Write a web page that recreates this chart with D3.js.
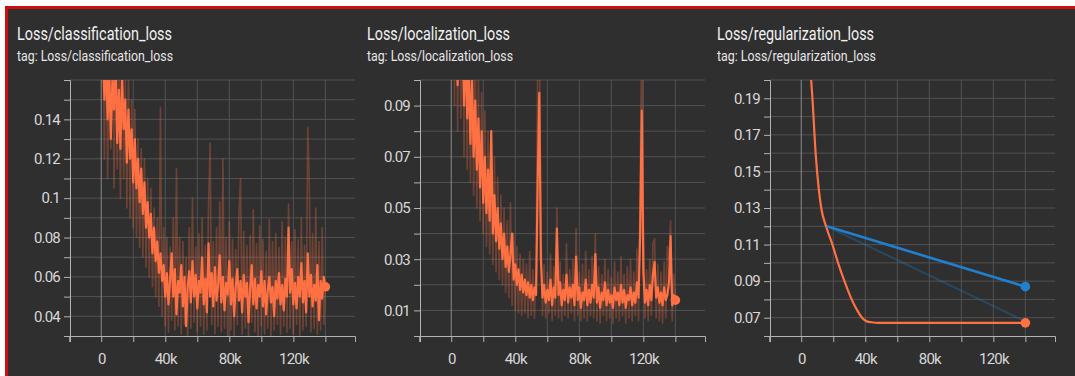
<!DOCTYPE html>
<html>
<head>
<meta charset="utf-8">
<script src="https://cdn.jsdelivr.net/npm/d3@7"></script>
<style>
  body { margin: 0; background: #fff; }
  svg { display: block; font-family: Roboto, sans-serif; }
  .title { fill: #f2f2f2; font-size: 19px; }
  .subtitle { fill: #e8e8e8; font-size: 15px; }
  .axis text { fill: #d8d8d8; font-size: 15px; letter-spacing: -0.8px; font-family: Roboto, sans-serif; }
  .axis path, .axis line { stroke: #b3b3b3; }
  .grid line { stroke: #525252; }
  .grid line.zero { stroke: #8c8c8c; }
</style>
</head>
<body>
<svg width="1075" height="376"></svg>
<script>
// steps logged every 1k for the two noisy losses
const steps = d3.range(1000, 140001, 1000);

const clsSmooth = [
  0.175, 0.15, 0.17, 0.14, 0.165, 0.13, 0.16, 0.145, 0.17, 0.128,
  0.155, 0.125, 0.162, 0.135, 0.15, 0.118, 0.145, 0.12, 0.135, 0.108,
  0.13, 0.105, 0.12, 0.098, 0.115, 0.092, 0.108, 0.085, 0.098, 0.08,
  0.092, 0.072, 0.085, 0.068, 0.078, 0.062, 0.072, 0.058, 0.066, 0.05,
  0.062, 0.046, 0.058, 0.072, 0.05, 0.064, 0.041, 0.058, 0.052, 0.066,
  0.045, 0.06, 0.035, 0.055, 0.063, 0.047, 0.068, 0.05, 0.061, 0.044,
  0.058, 0.052, 0.07, 0.046, 0.059, 0.042, 0.077, 0.05, 0.062, 0.045,
  0.065, 0.048, 0.056, 0.071, 0.047, 0.06, 0.043, 0.057, 0.051, 0.068,
  0.046, 0.059, 0.04, 0.055, 0.064, 0.048, 0.058, 0.042, 0.061, 0.05,
  0.057, 0.037, 0.054, 0.066, 0.046, 0.059, 0.044, 0.056, 0.05, 0.063,
  0.045, 0.058, 0.041, 0.053, 0.06, 0.047, 0.055, 0.04, 0.058, 0.049,
  0.062, 0.046, 0.056, 0.043, 0.059, 0.05, 0.085, 0.052, 0.064, 0.046,
  0.057, 0.044, 0.06, 0.05, 0.067, 0.047, 0.058, 0.042, 0.072, 0.05,
  0.061, 0.045, 0.056, 0.048, 0.066, 0.038, 0.058, 0.049, 0.06, 0.055
];
const clsRaw = [
  0.19, 0.12, 0.2, 0.11, 0.18, 0.125, 0.19, 0.105, 0.17, 0.115,
  0.175, 0.1, 0.18, 0.11, 0.16, 0.095, 0.165, 0.09, 0.15, 0.085,
  0.145, 0.08, 0.13, 0.075, 0.125, 0.07, 0.12, 0.065, 0.11, 0.06,
  0.105, 0.055, 0.095, 0.05, 0.09, 0.045, 0.146, 0.04, 0.085, 0.035,
  0.08, 0.032, 0.075, 0.038, 0.09, 0.033, 0.115, 0.035, 0.08, 0.031,
  0.078, 0.036, 0.07, 0.03, 0.085, 0.034, 0.1, 0.037, 0.075, 0.032,
  0.082, 0.035, 0.09, 0.031, 0.076, 0.033, 0.095, 0.128, 0.036, 0.078,
  0.031, 0.085, 0.035, 0.098, 0.032, 0.12, 0.034, 0.08, 0.03, 0.088,
  0.033, 0.079, 0.03, 0.074, 0.036, 0.092, 0.11, 0.031, 0.083, 0.034,
  0.076, 0.03, 0.081, 0.037, 0.094, 0.032, 0.077, 0.03, 0.086, 0.035,
  0.079, 0.031, 0.073, 0.034, 0.089, 0.03, 0.078, 0.033, 0.082, 0.036,
  0.075, 0.031, 0.088, 0.035, 0.08, 0.032, 0.097, 0.034, 0.078, 0.031,
  0.084, 0.036, 0.079, 0.03, 0.09, 0.033, 0.076, 0.035, 0.136, 0.106,
  0.032, 0.082, 0.034, 0.095, 0.031, 0.078, 0.033, 0.085, 0.036, 0.055
];

const locSmooth = [
  0.15, 0.12, 0.14, 0.098, 0.13, 0.105, 0.125, 0.09, 0.115, 0.085,
  0.105, 0.075, 0.1, 0.07, 0.092, 0.065, 0.085, 0.058, 0.08, 0.052,
  0.07, 0.048, 0.065, 0.045, 0.08, 0.04, 0.055, 0.037, 0.05, 0.034,
  0.044, 0.03, 0.04, 0.027, 0.035, 0.025, 0.032, 0.04, 0.022, 0.028,
  0.02, 0.026, 0.018, 0.024, 0.017, 0.022, 0.016, 0.021, 0.015, 0.02,
  0.014, 0.019, 0.016, 0.06, 0.095, 0.03, 0.015, 0.02, 0.013, 0.018,
  0.014, 0.022, 0.012, 0.019, 0.015, 0.042, 0.016, 0.021, 0.012, 0.018,
  0.014, 0.024, 0.013, 0.019, 0.015, 0.02, 0.012, 0.031, 0.014, 0.019,
  0.011, 0.017, 0.014, 0.022, 0.012, 0.018, 0.013, 0.02, 0.015, 0.032,
  0.013, 0.019, 0.011, 0.017, 0.014, 0.021, 0.012, 0.018, 0.013, 0.016,
  0.011, 0.019, 0.014, 0.017, 0.012, 0.02, 0.013, 0.018, 0.011, 0.016,
  0.014, 0.019, 0.012, 0.017, 0.013, 0.021, 0.015, 0.04, 0.088, 0.025,
  0.013, 0.018, 0.012, 0.02, 0.014, 0.024, 0.029, 0.015, 0.019, 0.013,
  0.017, 0.012, 0.019, 0.014, 0.016, 0.021, 0.039, 0.012, 0.016, 0.014
];
const locRaw = [
  0.18, 0.09, 0.16, 0.08, 0.15, 0.085, 0.14, 0.07, 0.13, 0.065,
  0.125, 0.06, 0.115, 0.055, 0.11, 0.05, 0.1, 0.045, 0.095, 0.04,
  0.088, 0.035, 0.08, 0.032, 0.075, 0.028, 0.07, 0.025, 0.062, 0.022,
  0.055, 0.02, 0.05, 0.017, 0.045, 0.015, 0.052, 0.012, 0.04, 0.01,
  0.035, 0.009, 0.032, 0.008, 0.03, 0.009, 0.028, 0.007, 0.033, 0.008,
  0.026, 0.007, 0.03, 0.105, 0.12, 0.045, 0.008, 0.028, 0.007, 0.025,
  0.009, 0.032, 0.006, 0.027, 0.008, 0.05, 0.007, 0.029, 0.006, 0.024,
  0.008, 0.036, 0.007, 0.026, 0.009, 0.03, 0.006, 0.042, 0.008, 0.025,
  0.006, 0.028, 0.007, 0.033, 0.006, 0.026, 0.008, 0.031, 0.007, 0.04,
  0.006, 0.027, 0.005, 0.024, 0.008, 0.03, 0.006, 0.026, 0.007, 0.023,
  0.005, 0.029, 0.007, 0.025, 0.006, 0.031, 0.008, 0.024, 0.005, 0.027,
  0.007, 0.03, 0.006, 0.025, 0.008, 0.034, 0.006, 0.06, 0.12, 0.045,
  0.007, 0.026, 0.006, 0.03, 0.008, 0.036, 0.038, 0.007, 0.028, 0.006,
  0.025, 0.005, 0.029, 0.007, 0.035, 0.03, 0.045, 0.006, 0.024, 0.014
];

// regularization loss: only a few logged points
const regSteps = [5000, 7000, 9000, 11000, 12500, 15500, 19500, 23000, 27000, 31000, 35000, 38000, 41000, 44000, 48000, 140000];
const regOrange = [0.215, 0.19, 0.16, 0.14, 0.13, 0.12, 0.11, 0.1, 0.09, 0.081, 0.074, 0.07, 0.068, 0.0675, 0.0672, 0.0672];
const regBlueSteps = [16000, 140000];
const regBlueSmooth = [0.12, 0.087];
const regBlueRaw = [0.12, 0.068];

const titles = ['Loss/classification_loss', 'Loss/localization_loss', 'Loss/regularization_loss'];
const yDomains = [[0.03, 0.16], [0, 0.1], [0.06, 0.2]];
const yLabels = [
  [0.04, 0.06, 0.08, 0.1, 0.12, 0.14],
  [0.01, 0.03, 0.05, 0.07, 0.09],
  [0.07, 0.09, 0.11, 0.13, 0.15, 0.17, 0.19]
];
const xTicks = [0, 20000, 40000, 60000, 80000, 100000, 120000, 140000];
const xLabels = [0, 40000, 80000, 120000];

const orange = '#ff7043', blue = '#1f80d0';

const svg = d3.select('svg');
svg.append('rect').attr('x', 5).attr('y', 6).attr('width', 1070).attr('height', 370).attr('fill', '#cc1010');
svg.append('rect').attr('x', 8).attr('y', 9).attr('width', 1067).attr('height', 367).attr('fill', '#2f2f2f');

const titleW = [[155, 156], [143, 146], [157, 159]];
const plotTop = 80, plotBottom = 336, plotW = 285;

function panel(i, series) {
  const ox = i * 350;
  const g = svg.append('g').attr('transform', `translate(${ox},0)`);

  g.append('text').attr('class', 'title').attr('x', 17).attr('y', 40)
    .attr('textLength', titleW[i][0]).attr('lengthAdjust', 'spacingAndGlyphs').text(titles[i]);
  g.append('text').attr('class', 'subtitle').attr('x', 17).attr('y', 61)
    .attr('textLength', titleW[i][1]).attr('lengthAdjust', 'spacingAndGlyphs').text('tag: ' + titles[i]);

  const x = d3.scaleLinear().domain([-19500, 158500]).range([70, 70 + plotW]);
  const y = d3.scaleLinear().domain(yDomains[i]).range([plotBottom, plotTop]);
  const [y0, y1] = yDomains[i];
  const yTicks = d3.range(Math.round(y0 * 100), Math.round(y1 * 100) + 1).map(d => d / 100);

  const grid = g.append('g').attr('class', 'grid');
  grid.selectAll('.h').data(yTicks.slice(1)).enter().append('line')
    .attr('x1', 70).attr('x2', 70 + plotW)
    .attr('y1', d => y(d)).attr('y2', d => y(d));
  grid.selectAll('.v').data(xTicks).enter().append('line')
    .attr('class', d => d === 0 ? 'zero' : null)
    .attr('x1', d => x(d)).attr('x2', d => x(d))
    .attr('y1', plotTop).attr('y2', plotBottom);

  const clipId = 'clip' + i;
  g.append('clipPath').attr('id', clipId).append('rect')
    .attr('x', 70).attr('y', plotTop).attr('width', plotW).attr('height', plotBottom - plotTop);
  const plot = g.append('g').attr('clip-path', `url(#${clipId})`);

  series.forEach(s => {
    const line = d3.line().x((d, j) => x(s.steps[j])).y(d => y(d));
    if (s.curve) line.curve(s.curve);
    plot.append('path').datum(s.values)
      .attr('fill', 'none').attr('stroke', s.color)
      .attr('stroke-opacity', s.opacity || 1)
      .attr('stroke-width', s.width)
      .attr('stroke-linejoin', 'round')
      .attr('d', line);
    if (s.dot) {
      const n = s.values.length - 1;
      plot.append('circle').attr('cx', x(s.steps[n])).attr('cy', y(s.values[n]))
        .attr('r', 4.8).attr('fill', s.color);
    }
  });

  const labelSet = yLabels[i].map(d => Math.round(d * 100));
  g.append('g').attr('class', 'axis').attr('transform', 'translate(70,0)')
    .call(d3.axisLeft(y).tickValues(yTicks).tickSize(6).tickSizeOuter(6).tickPadding(4)
      .tickFormat(d => labelSet.includes(Math.round(d * 100)) ? String(+d.toFixed(2)) : ''));
  g.append('g').attr('class', 'axis').attr('transform', `translate(0,${plotBottom})`)
    .call(d3.axisBottom(x).tickValues([-20000].concat(xTicks)).tickSize(6).tickSizeOuter(6).tickPadding(11)
      .tickFormat(d => xLabels.includes(d) ? d3.format('~s')(d) : ''));
  g.selectAll('.axis .domain').attr('fill', 'none');
}

panel(0, [
  { steps: steps, values: clsRaw, color: orange, opacity: 0.3, width: 1.6 },
  { steps: steps, values: clsSmooth, color: orange, width: 2.2, dot: true }
]);
panel(1, [
  { steps: steps, values: locRaw, color: orange, opacity: 0.3, width: 1.6 },
  { steps: steps, values: locSmooth, color: orange, width: 2.2, dot: true }
]);
panel(2, [
  { steps: regBlueSteps, values: regBlueRaw, color: blue, opacity: 0.3, width: 2 },
  { steps: regSteps, values: regOrange, color: orange, width: 2.2, curve: d3.curveMonotoneX, dot: true },
  { steps: regBlueSteps, values: regBlueSmooth, color: blue, width: 2.6, dot: true }
]);
</script>
</body>
</html>
